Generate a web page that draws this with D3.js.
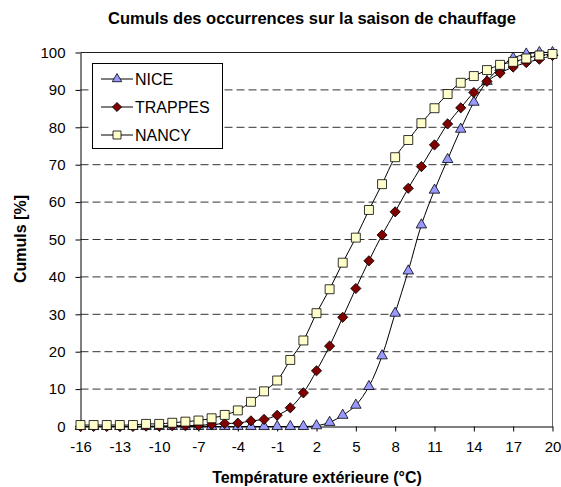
<!DOCTYPE html>
<html>
<head>
<meta charset="utf-8">
<script src="https://cdn.jsdelivr.net/npm/d3@7"></script>
<style>
  html, body { margin: 0; padding: 0; background: #fff; }
  svg { display: block; font-family: Arial, "Liberation Sans", sans-serif; }
</style>
</head>
<body>
<div id="chart"></div>
<script>
// temperatures (°C), one point per degree
const temps = d3.range(-16, 21)
const xTicks = d3.range(-16, 21, 3)
const yTicks = d3.range(0, 101, 10)

const nice = [0, 0, 0, 0, 0, 0, 0, 0, 0, 0, 0, 0, 0, 0, 0, 0, 0, 0,
  0.2, 1.1, 3.0, 5.7, 10.7, 18.9, 30.3, 41.6, 53.9, 63.2, 71.4, 79.5, 86.7,
  92.3, 96.0, 98.5, 99.6, 100, 100]
const trappes = [0, 0, 0, 0, 0, 0.1, 0.1, 0.2, 0.2, 0.3, 0.5, 0.8, 0.9, 1.5, 1.9, 3.0,
  5.0, 9.0, 14.9, 21.5, 29.2, 36.9, 44.3, 51.2, 57.4, 63.7, 69.5, 75.3, 80.9,
  85.2, 89.3, 92.3, 94.5, 96.1, 97.3, 98.2, 99.2]
const nancy = [0.4, 0.4, 0.4, 0.4, 0.4, 0.7, 0.7, 1.0, 1.3, 1.6, 2.2, 3.1, 4.3, 6.6, 9.4, 12.3,
  17.8, 23.0, 30.3, 36.7, 43.8, 50.5, 57.9, 64.8, 72.0, 76.6, 81.1, 85.1, 88.9,
  91.9, 93.7, 95.3, 96.7, 97.5, 98.4, 99.2, 99.6]

// diamond = square turned by 45 degrees
const series = [
  { name: 'NICE', values: nice, symbol: d3.symbolTriangle, size: 48, rot: 0, fill: '#9999ff' },
  { name: 'TRAPPES', values: trappes, symbol: d3.symbolSquare, size: 52, rot: 45, fill: '#800000' },
  { name: 'NANCY', values: nancy, symbol: d3.symbolSquare, size: 80, rot: 0, fill: '#ffffcc' }
]

const width = 561, height = 487
const plotLeft = 80.5, plotRight = 552.5, plotTop = 52.5, plotBottom = 426.5

const svg = d3.select('#chart').append('svg')
  .attr('width', width)
  .attr('height', height)

const x = d3.scaleLinear().domain([-16, 20]).range([plotLeft, plotRight])
const y = d3.scaleLinear().domain([0, 100]).range([plotBottom, plotTop])

// title
svg.append('text')
  .attr('x', 312).attr('y', 24)
  .attr('text-anchor', 'middle')
  .style('font-size', '16.5px').style('font-weight', 'bold')
  .text('Cumuls des occurrences sur la saison de chauffage')

// gridlines
svg.append('g').selectAll('line')
  .data(yTicks.filter(d => d > 0 && d < 100))
  .enter().append('line')
  .attr('x1', plotLeft).attr('x2', plotRight)
  .attr('y1', d => y(d)).attr('y2', d => y(d))
  .attr('stroke', '#333')
  .attr('stroke-dasharray', '8,4')

// plot frame (top and right)
svg.append('line')
  .attr('x1', plotLeft).attr('x2', plotRight).attr('y1', plotTop).attr('y2', plotTop)
  .attr('stroke', '#222')
svg.append('line')
  .attr('x1', plotRight).attr('x2', plotRight).attr('y1', plotTop).attr('y2', plotBottom)
  .attr('stroke', '#666')

// axes (plain hyphen for negatives, like the original)
const fmt = d => String(d)

const xAxis = svg.append('g')
  .attr('transform', 'translate(0,' + plotBottom + ')')
  .call(d3.axisBottom(x).tickValues(xTicks).tickFormat(fmt).tickSize(5).tickSizeOuter(0).tickPadding(10))
xAxis.select('.domain').attr('stroke', '#000')
xAxis.selectAll('text').style('font-size', '15px').attr('fill', '#000')

const yAxis = svg.append('g')
  .attr('transform', 'translate(' + plotLeft + ',0)')
  .call(d3.axisLeft(y).tickValues(yTicks).tickFormat(fmt).tickSize(5).tickSizeOuter(0).tickPadding(10))
yAxis.select('.domain').attr('stroke', '#000')
yAxis.selectAll('text').style('font-size', '15px').attr('fill', '#000')

// axis titles
svg.append('text')
  .attr('x', 317).attr('y', 483)
  .attr('text-anchor', 'middle')
  .style('font-size', '16px').style('font-weight', 'bold')
  .text('Température extérieure (°C)')

svg.append('text')
  .attr('transform', 'translate(26,239)rotate(-90)')
  .attr('text-anchor', 'middle')
  .style('font-size', '16px').style('font-weight', 'bold')
  .text('Cumuls [%]')

// series
const line = d3.line()
  .x((d, i) => x(temps[i]))
  .y(d => y(d))
  .curve(d3.curveCatmullRom.alpha(0.5))

series.forEach(function (s) {
  const g = svg.append('g')
  g.append('path')
    .attr('d', line(s.values))
    .attr('fill', 'none')
    .attr('stroke', '#000')
    .attr('stroke-width', 1)
  g.selectAll('path.pt')
    .data(s.values)
    .enter().append('path')
    .attr('class', 'pt')
    .attr('d', d3.symbol().type(s.symbol).size(s.size))
    .attr('transform', (d, i) => 'translate(' + x(temps[i]) + ',' + y(d) + ')rotate(' + s.rot + ')')
    .attr('fill', s.fill)
    .attr('stroke', '#000')
    .attr('stroke-width', 0.8)
})

// legend
const legend = svg.append('g')
legend.append('rect')
  .attr('x', 92.5).attr('y', 63.5)
  .attr('width', 130).attr('height', 85)
  .attr('fill', '#fff')
  .attr('stroke', '#000')

const rows = legend.selectAll('g.row')
  .data(series)
  .enter().append('g')
  .attr('class', 'row')
  .attr('transform', (d, i) => 'translate(0,' + (79 + i * 28) + ')')
rows.append('line')
  .attr('x1', 101).attr('x2', 133)
  .attr('stroke', '#000')
rows.append('path')
  .attr('d', d => d3.symbol().type(d.symbol).size(d.size * 0.8)())
  .attr('transform', d => 'translate(117,0)rotate(' + d.rot + ')')
  .attr('fill', d => d.fill)
  .attr('stroke', '#000')
  .attr('stroke-width', 0.8)
rows.append('text')
  .attr('x', 135).attr('dy', '0.36em')
  .style('font-size', '16px')
  .text(d => d.name)
</script>
</body>
</html>
